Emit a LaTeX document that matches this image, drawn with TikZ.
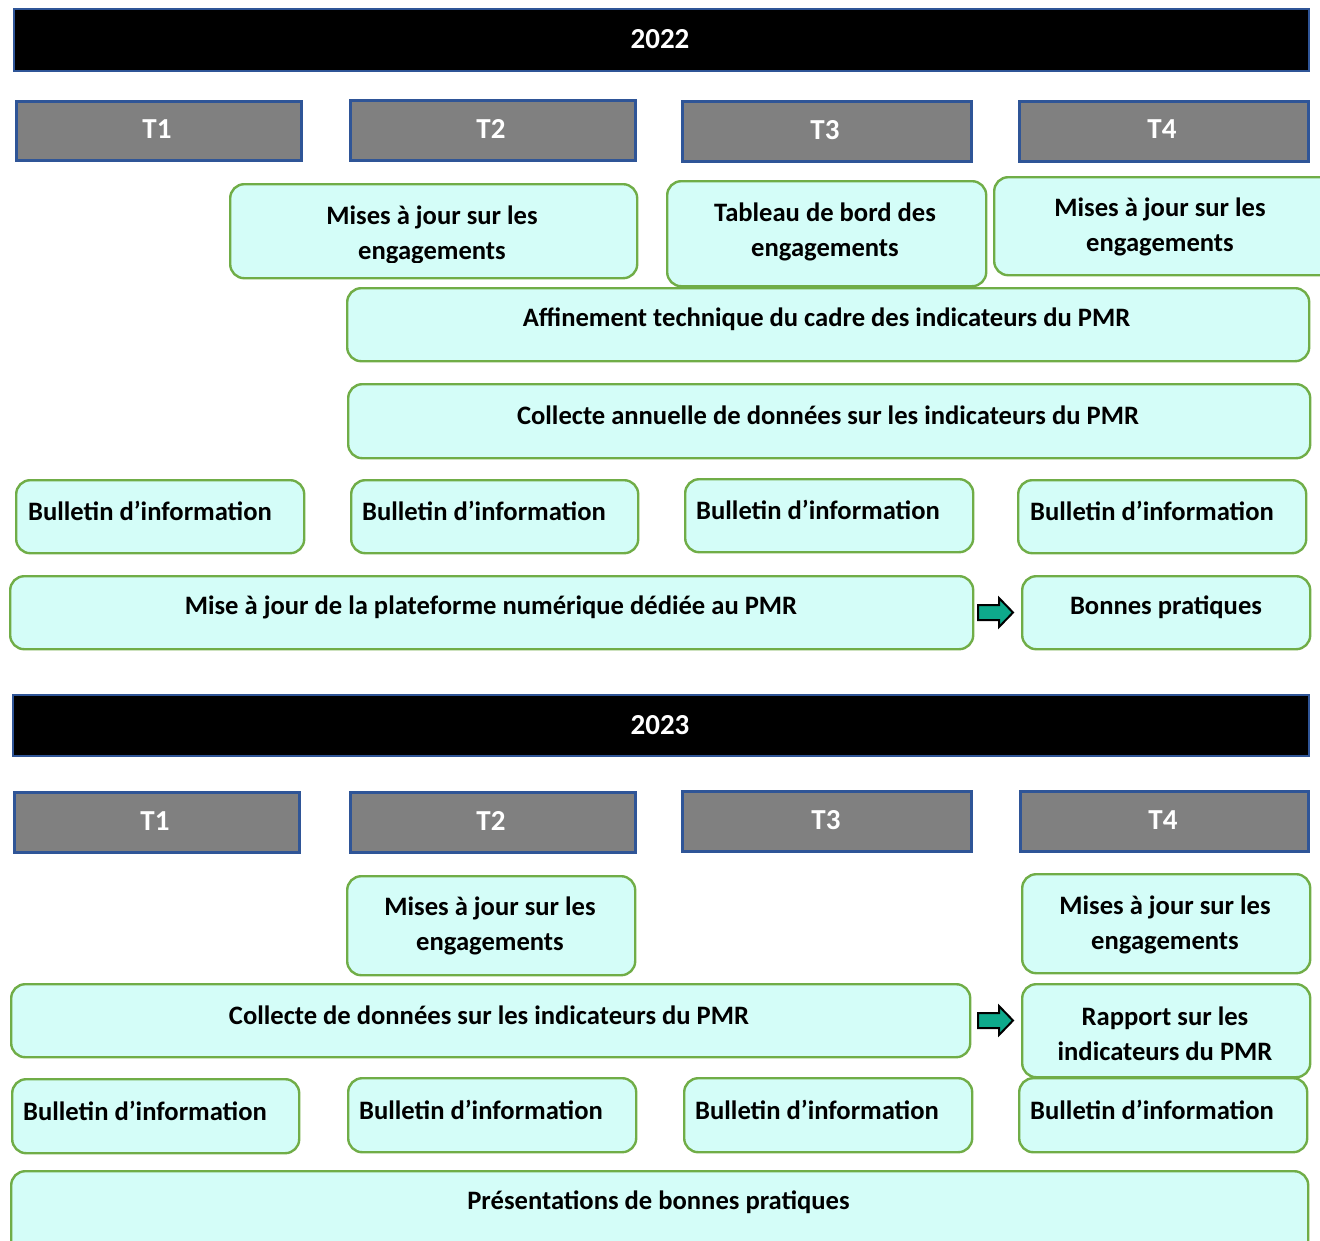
\documentclass[tikz,border=0pt]{standalone}
\usepackage{fontspec}
\setmainfont{Carlito}
\definecolor{boxfill}{HTML}{D4FDF8}
\definecolor{boxline}{HTML}{70AD47}
\definecolor{hdline}{HTML}{2F5597}
\definecolor{qfill}{HTML}{808080}
\definecolor{arrfill}{HTML}{0EAA8C}
\tikzset{
  gbox/.style={draw=boxline, line width=2.4pt, fill=boxfill, rounded corners=14pt, inner sep=0pt},
  yearbox/.style={draw=hdline, line width=2pt, fill=black, inner sep=0pt},
  qbox/.style={draw=hdline, line width=2.5pt, fill=qfill, inner sep=0pt},
  txt/.style={font=\bfseries\fontsize{26.6}{35}\selectfont, align=center, inner sep=0pt, text=black},
  wtxt/.style={font=\bfseries\fontsize{29}{35}\selectfont, inner sep=0pt, text=white},
  arrowshape/.style={draw=black, line width=2pt, fill=arrfill, line join=miter}
}
\newcommand\bx[6]{\node[#1, minimum width={#5-#3}, minimum height={#6-#4}, anchor=north west] (#2) at (#3,#4) {};}
\begin{document}
\begin{tikzpicture}[x=1pt,y=-1pt]
\useasboundingbox (0,0) rectangle (1320,1240);
\clip (0,0) rectangle (1320,1240);

% ===== 2022 =====
\bx{yearbox}{y22}{13}{8}{1308}{70}
\node[wtxt] (y22t) at (660,39) {2022};
\bx{qbox}{q1a}{15}{100}{300}{159}
\bx{qbox}{q2a}{349}{99}{634}{159}
\bx{qbox}{q3a}{681}{100}{970}{160}
\bx{qbox}{q4a}{1018}{100}{1307}{160}
\node[wtxt] (q1at) at (157,129) {T1};
\node[wtxt] (q2at) at (491,129) {T2};
\node[wtxt] (q3at) at (825,130) {T3};
\node[wtxt] (q4at) at (1162,129) {T4};

\bx{gbox}{ma1}{229}{183}{636}{277}
\begin{scope}
\clip (229,183) rectangle (636,262);
\node[txt] (ma1t) at (432,234.5) {Mises à jour sur les\\engagements};
\end{scope}
\bx{gbox}{tb}{666}{180}{985}{285}
\node[txt] (tbt) at (825,231.5) {Tableau de bord des\\engagements};
\bx{gbox}{ma2}{993}{176}{1340}{274}
\node[txt] (ma2t) at (1160,226.5) {Mises à jour sur les\\engagements};

\bx{gbox}{aff}{346}{287}{1308}{360}
\node[txt] (afft) at (826.5,319) {Affinement technique du cadre des indicateurs du PMR};
\bx{gbox}{coll}{347}{383}{1309}{457}
\node[txt] (collt) at (828,415) {Collecte annuelle de données sur les indicateurs du PMR};

\bx{gbox}{ba1}{15}{479}{303}{552}
\bx{gbox}{ba2}{350}{479}{637}{552}
\bx{gbox}{ba3}{684}{478}{972}{551}
\bx{gbox}{ba4}{1017}{479}{1305}{552}
\node[txt, anchor=west] (ba1t) at (28,511) {Bulletin d’information};
\node[txt, anchor=west] (ba2t) at (362,511) {Bulletin d’information};
\node[txt, anchor=west] (ba3t) at (696,510) {Bulletin d’information};
\node[txt, anchor=west] (ba4t) at (1030,511) {Bulletin d’information};

\bx{gbox}{plat}{9}{575}{972}{648}
\node[txt] (platt) at (491,607) {Mise à jour de la plateforme numérique dédiée au PMR};
\bx{gbox}{bp}{1021}{575}{1309}{648}
\node[txt] (bpt) at (1166,607) {Bonnes pratiques};
\draw[arrowshape] (978,605) -- (999,605) -- (999,598) -- (1013,612.5) -- (999,627) -- (999,620) -- (978,620) -- cycle;

% ===== 2023 =====
\bx{yearbox}{y23}{12}{694}{1308}{755}
\node[wtxt] (y23t) at (660,725) {2023};
\bx{qbox}{q1b}{13}{791}{298}{851}
\bx{qbox}{q2b}{349}{791}{634}{851}
\bx{qbox}{q3b}{681}{790}{970}{850}
\bx{qbox}{q4b}{1019}{790}{1307}{850}
\node[wtxt] (q1bt) at (155,821) {T1};
\node[wtxt] (q2bt) at (491,821) {T2};
\node[wtxt] (q3bt) at (826,820) {T3};
\node[wtxt] (q4bt) at (1163,820) {T4};

\bx{gbox}{mb1}{346}{875}{634}{974}
\node[txt] (mb1t) at (490,925.5) {Mises à jour sur les\\engagements};
\bx{gbox}{mb2}{1021}{873}{1309}{972}
\node[txt] (mb2t) at (1165,924.5) {Mises à jour sur les\\engagements};

\bx{gbox}{col2}{10}{983}{969}{1056}
\node[txt] (col2t) at (489,1015) {Collecte de données sur les indicateurs du PMR};
\bx{gbox}{rap}{1021}{983}{1309}{1076}
\node[txt] (rapt) at (1165,1033.5) {Rapport sur les\\indicateurs du PMR};
\draw[arrowshape] (978,1013) -- (999,1013) -- (999,1006) -- (1013,1020.5) -- (999,1035) -- (999,1028) -- (978,1028) -- cycle;

\bx{gbox}{bb1}{11}{1078}{298}{1152}
\bx{gbox}{bb2}{347}{1077}{635}{1151}
\bx{gbox}{bb3}{683}{1077}{971}{1151}
\bx{gbox}{bb4}{1018}{1077}{1306}{1151}
\node[txt, anchor=west] (bb1t) at (23,1111) {Bulletin d’information};
\node[txt, anchor=west] (bb2t) at (359,1110) {Bulletin d’information};
\node[txt, anchor=west] (bb3t) at (695,1110) {Bulletin d’information};
\node[txt, anchor=west] (bb4t) at (1030,1110) {Bulletin d’information};

\bx{gbox}{pres}{10}{1170}{1307}{1270}
\node[txt] (prest) at (658.5,1202) {Présentations de bonnes pratiques};
\end{tikzpicture}
\end{document}
